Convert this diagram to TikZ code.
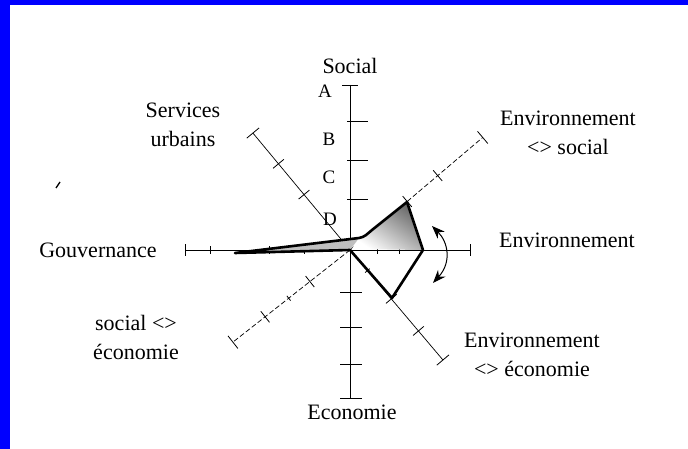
\documentclass[tikz,border=0pt]{standalone}
\usepackage{fontspec}
\setmainfont{Liberation Serif}
\usetikzlibrary{arrows.meta,calc}
\begin{document}
\begin{tikzpicture}[x=1pt,y=-1pt,
  lbl/.style={font=\fontsize{22}{29}\selectfont, inner sep=0pt, align=center},
  letter/.style={font=\fontsize{19}{22}\selectfont, inner sep=0pt},
  axisline/.style={line width=0.7pt},
  dashaxis/.style={line width=0.7pt, dash pattern=on 5pt off 2.5pt},
  tickmark/.style={line width=0.8pt},
  polyline/.style={line width=2.6pt, line join=round},
  turnarrow/.style={line width=1pt, {Stealth[length=13pt,width=10pt]}-{Stealth[length=13pt,width=10pt]}}
]
\useasboundingbox (0,0) rectangle (688,449);
\fill[white] (0,0) rectangle (688,449);
\fill[blue] (0,0) rectangle (688,5);
\fill[blue] (0,0) rectangle (9.5,449);

\coordinate (O) at (350,250);

% vertical axis
\coordinate (Stop) at (350,85);
\coordinate (Ebot) at (350,398);
\draw[axisline] (Stop) -- (Ebot);
\draw[tickmark] (342,85) -- (358,85);
\foreach \y in {121,160,199} \draw[tickmark] (347,\y) -- (368,\y);
\foreach \y in {292,327,364,398} \draw[tickmark] (340,\y) -- (362,\y);

% horizontal axis
\coordinate (Gend) at (185,250);
\coordinate (Eend) at (470,250);
\draw[axisline] (Gend) -- (Eend);
\foreach \x in {210,269,304,377,399} \draw[tickmark] (\x,246) -- (\x,254);
\foreach \x in {185,470} \draw[tickmark] (\x,244) -- (\x,256);

% diagonals
\begin{scope}[shift={(O)}, rotate=129.7]
  \draw[axisline] (0,0) -- (152,0);
  \foreach \d in {72,112} \draw[tickmark] (\d,-7) -- (\d,7);
  \draw[tickmark] (152,-8) -- (152,8);
\end{scope}
\begin{scope}[shift={(O)}, rotate=40.3]
  \draw[dashaxis] (0,0) -- (174,0);
  \foreach \d in {75,115} \draw[tickmark] (\d,-7) -- (\d,7);
  \draw[tickmark] (174,-8) -- (174,8);
\end{scope}
\begin{scope}[shift={(O)}, rotate=218.2]
  \draw[dashaxis] (0,0) -- (149,0);
  \foreach \d in {51,108} \draw[tickmark] (\d,-7) -- (\d,7);
  \draw[tickmark] (78,-3) -- (78,3);
  \draw[tickmark] (149,-8) -- (149,8);
\end{scope}
\begin{scope}[shift={(O)}, rotate=310.2]
  \draw[axisline] (0,0) -- (144,0);
  \draw[tickmark] (27,-3) -- (27,3);
  \foreach \d in {64,106} \draw[tickmark] (\d,-7) -- (\d,7);
  \draw[tickmark] (144,-8) -- (144,8);
\end{scope}

% profile polygon
\coordinate (pG) at (235,253);
\coordinate (pB) at (359,238);
\coordinate (pK) at (372,230);
\coordinate (pNE) at (407,202);
\coordinate (pE) at (423,250);
\coordinate (pSE) at (392,298);

\shade[top color=black!60, middle color=black!22, bottom color=white, shading angle=-35]
  (352,249) -- (pB) .. controls (365,237) and (367,234) .. (pK) -- (pNE) -- (pE) -- cycle;
\fill[black!25] (pG) -- (pB) -- (O) -- cycle;
\draw[polyline] (pG) -- (pB) .. controls (365,237) and (367,234) .. (pK) -- (pNE) -- (pE) -- (pSE) -- (O) -- cycle;

% rotation arrow
\coordinate (arA) at (432,226);
\coordinate (arB) at (433,283);
\draw[turnarrow] (arA) .. controls (448,242) and (452,262) .. (arB);

% stray mark
\coordinate (mk1) at (56,188);
\coordinate (mk2) at (60,182);
\draw[line width=1.3pt] (mk1) -- (mk2);

% scale letters
\node[letter] (lA) at (325,91) {A};
\node[letter] (lB) at (329,139) {B};
\node[letter] (lC) at (329,177) {C};
\node[letter] (lD) at (330,219) {D};

% axis labels
\node[lbl] (social) at (350,66) {Social};
\node[lbl] (services) at (183,125) {Services\\urbains};
\node[lbl] (gouv) at (98,250) {Gouvernance};
\node[lbl] (envsoc) at (568,133) {Environnement\\<> social};
\node[lbl] (env) at (567,240) {Environnement};
\node[lbl] (soceco) at (136,337) {social <>\\économie};
\node[lbl] (enveco) at (532,355) {Environnement\\<> économie};
\node[lbl] (eco) at (352,412) {Economie};
\end{tikzpicture}
\end{document}
